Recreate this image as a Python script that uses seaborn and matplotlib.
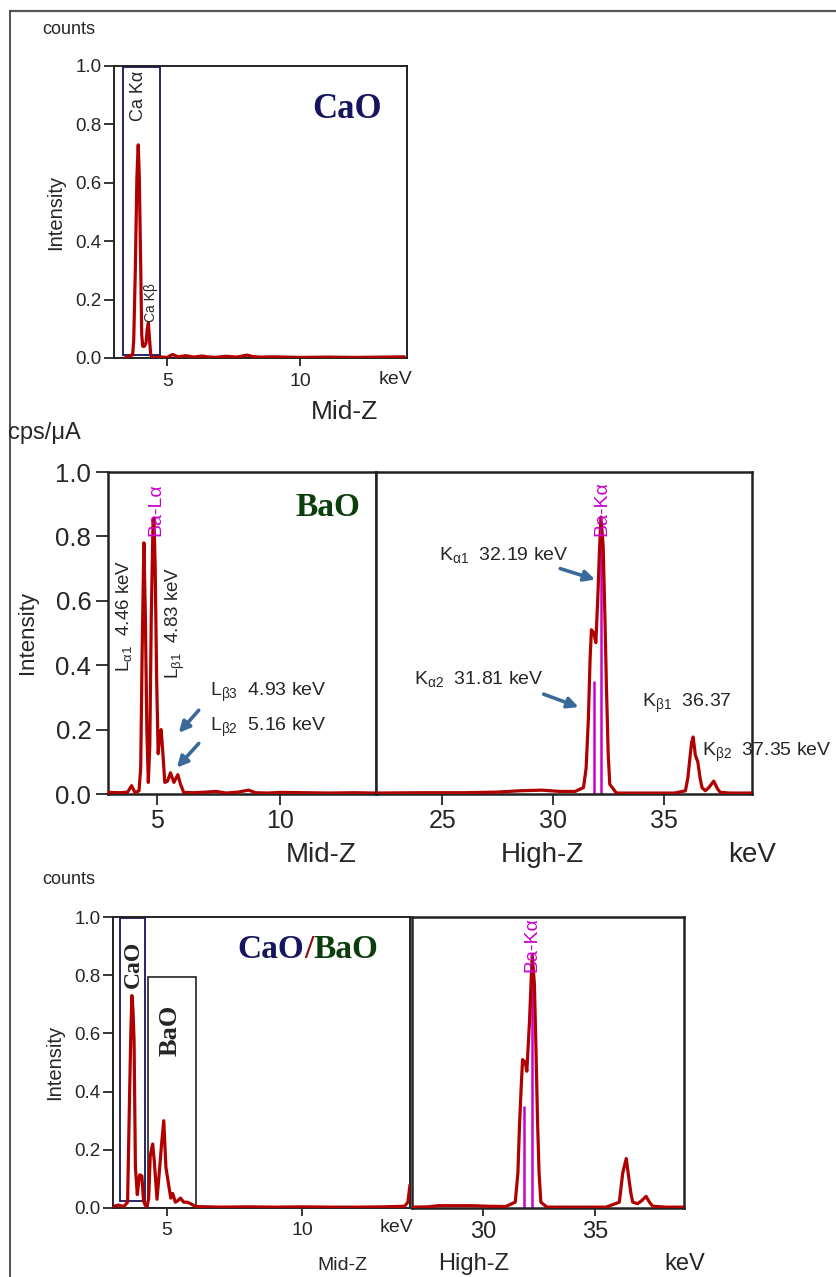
import matplotlib
matplotlib.use('Agg')
import matplotlib.pyplot as plt
import seaborn as sns
from matplotlib.patches import Rectangle
from matplotlib.lines import Line2D

# ---- spectra (keV, normalised intensity) ----
cao_kev = [3.4, 3.55, 3.65, 3.70, 3.74, 3.80, 3.86, 3.91, 3.95, 4.00, 4.04, 4.08, 4.14,
           4.20, 4.25, 4.29, 4.33, 4.38, 4.45, 4.7, 5.0, 5.2, 5.4, 5.7, 6.0, 6.3, 6.5,
           6.8, 7.2, 7.6, 8.0, 8.2, 8.5, 9.0, 10.0, 11.0, 12.0, 13.0, 13.9]
cao_int = [0.0, 0.005, 0.01, 0.01, 0.06, 0.30, 0.62, 0.73, 0.62, 0.33, 0.08, 0.04, 0.04,
           0.05, 0.10, 0.12, 0.07, 0.01, 0.0, 0.004, 0.002, 0.012, 0.004, 0.008, 0.003,
           0.007, 0.004, 0.002, 0.006, 0.003, 0.010, 0.005, 0.003, 0.004, 0.002, 0.003,
           0.002, 0.003, 0.004]

bao_mid_kev = [3.0, 3.5, 3.8, 3.96, 4.1, 4.26, 4.33, 4.39, 4.46, 4.52, 4.58, 4.64, 4.70,
               4.76, 4.83, 4.87, 4.92, 4.98, 5.04, 5.10, 5.16, 5.22, 5.31, 5.42, 5.54,
               5.68, 5.84, 5.95, 6.08, 6.5, 7.0, 7.4, 7.8, 8.3, 8.72, 9.0, 9.5, 10.0,
               11.0, 12.0, 13.0, 13.9]
bao_mid_int = [0.005, 0.004, 0.006, 0.026, 0.004, 0.01, 0.08, 0.45, 0.78, 0.55, 0.20,
               0.036, 0.15, 0.55, 0.84, 0.857, 0.70, 0.35, 0.125, 0.18, 0.20, 0.14, 0.036,
               0.04, 0.066, 0.036, 0.06, 0.03, 0.005, 0.004, 0.006, 0.008, 0.003, 0.006,
               0.012, 0.004, 0.003, 0.005, 0.004, 0.003, 0.004, 0.003]

bao_hi_kev = [22.0, 24.0, 26.0, 27.5, 28.5, 29.5, 30.3, 31.0, 31.38, 31.5, 31.6, 31.68,
              31.74, 31.85, 31.94, 32.04, 32.10, 32.17, 32.27, 32.35, 32.42, 32.5, 32.57,
              32.87, 33.5, 34.5, 35.5, 35.99, 36.1, 36.19, 36.27, 36.34, 36.44, 36.55,
              36.65, 36.74, 36.89, 37.05, 37.27, 37.45, 37.57, 38.0, 39.0]
bao_hi_int = [0.003, 0.004, 0.004, 0.006, 0.01, 0.012, 0.008, 0.008, 0.02, 0.08, 0.23,
              0.42, 0.51, 0.50, 0.47, 0.63, 0.75, 0.86, 0.77, 0.55, 0.33, 0.12, 0.03,
              0.003, 0.003, 0.003, 0.003, 0.01, 0.05, 0.11, 0.16, 0.177, 0.12, 0.10,
              0.05, 0.02, 0.01, 0.02, 0.04, 0.015, 0.005, 0.003, 0.003]

mix_mid_kev = [3.0, 3.2, 3.4, 3.54, 3.61, 3.66, 3.70, 3.74, 3.78, 3.83, 3.90, 3.95, 3.99,
               4.07, 4.13, 4.19, 4.25, 4.32, 4.38, 4.47, 4.53, 4.63, 4.73, 4.80, 4.88,
               4.96, 5.07, 5.14, 5.21, 5.31, 5.40, 5.50, 5.62, 5.75, 5.87, 6.06, 6.5,
               7.0, 8.0, 9.0, 10.0, 11.0, 12.0, 13.0, 13.8, 13.92, 14.0]
mix_mid_int = [0.005, 0.01, 0.005, 0.02, 0.37, 0.60, 0.73, 0.68, 0.575, 0.14, 0.046,
               0.09, 0.114, 0.11, 0.025, 0.01, 0.005, 0.03, 0.18, 0.22, 0.16, 0.03, 0.14,
               0.22, 0.30, 0.14, 0.074, 0.034, 0.05, 0.02, 0.025, 0.034, 0.02, 0.02,
               0.015, 0.005, 0.004, 0.003, 0.004, 0.003, 0.004, 0.003, 0.003, 0.004,
               0.006, 0.02, 0.08]

mix_hi_kev = [26.8, 27.5, 28.0, 28.5, 29.5, 30.2, 31.0, 31.43, 31.55, 31.62, 31.70, 31.76,
              31.88, 31.95, 32.07, 32.19, 32.29, 32.36, 32.43, 32.5, 32.58, 32.85, 33.5,
              34.5, 35.5, 36.1, 36.25, 36.41, 36.53, 36.62, 36.7, 36.92, 37.1, 37.3,
              37.45, 37.6, 38.2, 39.0]
mix_hi_int = [0.003, 0.004, 0.008, 0.008, 0.008, 0.006, 0.005, 0.02, 0.12, 0.28, 0.42,
              0.51, 0.50, 0.47, 0.64, 0.87, 0.77, 0.55, 0.30, 0.12, 0.02, 0.003, 0.003,
              0.003, 0.003, 0.02, 0.12, 0.17, 0.10, 0.05, 0.02, 0.015, 0.025, 0.04, 0.02,
              0.006, 0.003, 0.003]

# Ba K-alpha reference lines (keV, height)
bao_line_kev = [31.87, 32.19]
bao_line_h = [0.35, 0.83]
mix_line_kev = [31.84, 32.19]
mix_line_h = [0.35, 0.82]

y_ticks = [0.0, 0.2, 0.4, 0.6, 0.8, 1.0]
y_labels = ['0.0', '0.2', '0.4', '0.6', '0.8', '1.0']

RED = '#b00000'
MAG = '#cc00cc'
NAVY = '#16165e'
GREEN = '#0c3d0c'
ARROW = '#3b6a9a'

sns.set_style('ticks')
plt.rcParams['font.family'] = ['Liberation Sans', 'DejaVu Sans']
plt.rcParams['mathtext.fontset'] = 'custom'
plt.rcParams['mathtext.rm'] = 'Liberation Sans'
plt.rcParams['mathtext.it'] = 'Liberation Sans'
plt.rcParams['mathtext.bf'] = 'Liberation Sans:bold'

W, H = 837, 1277
fig = plt.figure(figsize=(W / 100, H / 100), dpi=100)


def px_axes(x0, y0, x1, y1):
    return fig.add_axes([x0 / W, 1 - y1 / H, (x1 - x0) / W, (y1 - y0) / H])


def ftext(x, y, s, **kw):
    fig.text(x / W, 1 - y / H, s, **kw)


def spectrum(ax, kev, inten):
    sns.lineplot(x=kev, y=inten, ax=ax, color=RED, linewidth=2.3, zorder=3)


def style(ax, xlim, xticks, xsize, ysize, show_y=True, lw=1.4, tlen=(6, 7), pads=(4, 2)):
    ax.set_xlim(*xlim)
    ax.set_ylim(0, 1.0)
    ax.set_xticks(xticks)
    ax.set_xticklabels([str(t) for t in xticks])
    for s in ax.spines.values():
        s.set_linewidth(lw)
        s.set_color('#222222')
    ax.tick_params(axis='x', labelsize=xsize, length=tlen[0], width=1.3, pad=pads[0])
    if show_y:
        ax.set_yticks(y_ticks)
        ax.set_yticklabels(y_labels)
        ax.tick_params(axis='y', labelsize=ysize, length=tlen[1], width=1.3, pad=pads[1])
    else:
        ax.set_yticks([])
    ax.set_xlabel('')
    ax.set_ylabel('')


serif = dict(family='Liberation Serif', fontweight='bold')

# outer frame (top and left only)
fig.add_artist(Line2D([10 / W, 1.0], [1 - 11 / H, 1 - 11 / H], transform=fig.transFigure,
                      color='#555555', lw=1.6))
fig.add_artist(Line2D([10 / W, 10 / W], [0, 1 - 11 / H], transform=fig.transFigure,
                      color='#333333', lw=1.2))

# ===== panel 1: CaO =====
ax1 = px_axes(114, 66, 407, 358)
spectrum(ax1, cao_kev, cao_int)
style(ax1, (3, 14), [5, 10], 14, 13.5, tlen=(6, 7), pads=(5, 2))
ax1.add_patch(Rectangle((3.33, 0.01), 4.72 - 3.33, 0.985, fill=False, ec=NAVY, lw=1.3, zorder=2))
ax1.text(3.92, 0.985, 'Ca Kα', rotation=90, ha='center', va='top', fontsize=13)
ax1.text(4.40, 0.125, 'Ca Kβ', rotation=90, ha='center', va='bottom', fontsize=10)
ax1.text(10.45, 0.85, 'CaO', color=NAVY, fontsize=25, ha='left', va='center', **serif)
ftext(42, 30, 'counts', fontsize=13, ha='left', va='center')
ftext(56, 212, 'Intensity', fontsize=14.5, rotation=90, ha='center', va='center')
ftext(379, 379, 'keV', fontsize=14, ha='left', va='center')
ftext(345, 412, 'Mid-Z', fontsize=19, ha='center', va='center')

# ===== panel 2: BaO =====
ax2 = px_axes(108, 472, 376, 794)
spectrum(ax2, bao_mid_kev, bao_mid_int)
style(ax2, (3, 13.9), [5, 10], 18, 18.5, lw=1.8, tlen=(8, 9), pads=(3, 3))
ax3 = px_axes(376, 472, 752, 794)
ax3.vlines(bao_line_kev, 0, bao_line_h, color=MAG, lw=1.8, zorder=2)
spectrum(ax3, bao_hi_kev, bao_hi_int)
style(ax3, (22, 39), [25, 30, 35], 18, 18.5, show_y=False, lw=1.8, tlen=(8, 9), pads=(3, 3))

ax2.text(4.93, 0.80, 'Ba-Lα', rotation=90, color=MAG, fontsize=14, ha='center', va='bottom')
ax3.text(32.19, 0.80, 'Ba-Kα', rotation=90, color=MAG, fontsize=14, ha='center', va='bottom')
ax2.text(10.62, 0.889, 'BaO', color=GREEN, fontsize=24, ha='left', va='center', **serif)

ax2.text(3.65, 0.379, r'L$_{α1}$  4.46 keV', rotation=90, ha='center', va='bottom', fontsize=13.5)
ax2.text(5.75, 0.358, r'L$_{β1}$  4.83 keV', rotation=90, ha='center', va='bottom', fontsize=13.5)
ax2.text(7.16, 0.317, r'L$_{β3}$  4.93 keV', ha='left', va='center', fontsize=14)
ax2.text(7.16, 0.207, r'L$_{β2}$  5.16 keV', ha='left', va='center', fontsize=14)
arrow = dict(arrowstyle='-|>', color=ARROW, lw=2.6, mutation_scale=16, shrinkA=0, shrinkB=0)
ax2.annotate('', xy=(5.88, 0.19), xytext=(6.69, 0.26), arrowprops=arrow)
ax2.annotate('', xy=(5.80, 0.082), xytext=(6.69, 0.157), arrowprops=arrow)

ax3.text(24.83, 0.742, r'K$_{α1}$  32.19 keV', ha='left', va='center', fontsize=14)
ax3.text(23.70, 0.358, r'K$_{α2}$  31.81 keV', ha='left', va='center', fontsize=14)
ax3.text(34.02, 0.28, r'K$_{β1}$  36.37', ha='left', va='center', fontsize=14)
ax3.text(36.73, 0.13, r'K$_{β2}$  37.35 keV', ha='left', va='center', fontsize=14)
ax3.annotate('', xy=(31.91, 0.666), xytext=(30.33, 0.70), arrowprops=arrow)
ax3.annotate('', xy=(31.16, 0.27), xytext=(29.58, 0.31), arrowprops=arrow)

ftext(8, 433, 'cps/μA', fontsize=17, ha='left', va='center')
ftext(28, 632, 'Intensity', fontsize=16, rotation=90, ha='center', va='center')
ftext(321, 855, 'Mid-Z', fontsize=20, ha='center', va='center')
ftext(542, 855, 'High-Z', fontsize=20, ha='center', va='center')
ftext(752, 855, 'keV', fontsize=20, ha='center', va='center')

# ===== panel 3: CaO/BaO =====
ax4 = px_axes(113, 917, 410, 1208)
spectrum(ax4, mix_mid_kev, mix_mid_int)
style(ax4, (3, 14), [5, 10], 14, 13.5, tlen=(6, 7), pads=(4, 2))
ax5 = px_axes(412, 917, 684, 1208)
ax5.vlines(mix_line_kev, 0, mix_line_h, color=MAG, lw=1.8, zorder=2)
spectrum(ax5, mix_hi_kev, mix_hi_int)
style(ax5, (26.8, 39), [30, 35], 17, 13.5, show_y=False, lw=1.8, tlen=(6, 7), pads=(3, 2))

ax4.add_patch(Rectangle((3.27, 0.023), 4.19 - 3.27, 0.975, fill=False, ec=NAVY, lw=1.3, zorder=2))
ax4.add_patch(Rectangle((4.30, 0.0), 6.09 - 4.30, 0.794, fill=False, ec='#222222', lw=1.2, zorder=2))
ax4.text(3.75, 0.92, 'CaO', rotation=90, ha='center', va='top', fontsize=17, **serif)
ax4.text(5.12, 0.70, 'BaO', rotation=90, ha='center', va='top', fontsize=19, **serif)
t1 = ax4.text(7.61, 0.89, 'CaO', color=NAVY, fontsize=24, ha='left', va='center', **serif)
t2 = ax4.annotate('/', xy=(1, 0), xycoords=t1, ha='left', va='bottom', color='#8b1010',
                  fontsize=24, **serif)
ax4.annotate('BaO', xy=(1, 0), xycoords=t2, ha='left', va='bottom', color=GREEN,
             fontsize=24, **serif)
ax5.text(32.19, 0.81, 'Ba-Kα', rotation=90, color=MAG, fontsize=14, ha='center', va='bottom')

ftext(42, 880, 'counts', fontsize=13, ha='left', va='center')
ftext(55, 1062, 'Intensity', fontsize=14.5, rotation=90, ha='center', va='center')
ftext(380, 1228, 'keV', fontsize=14, ha='left', va='center')
ftext(342, 1265, 'Mid-Z', fontsize=14, ha='center', va='center')
ftext(474, 1264, 'High-Z', fontsize=17, ha='center', va='center')
ftext(685, 1264, 'keV', fontsize=17, ha='center', va='center')

fig.savefig('out.png', dpi=100, facecolor='white')
